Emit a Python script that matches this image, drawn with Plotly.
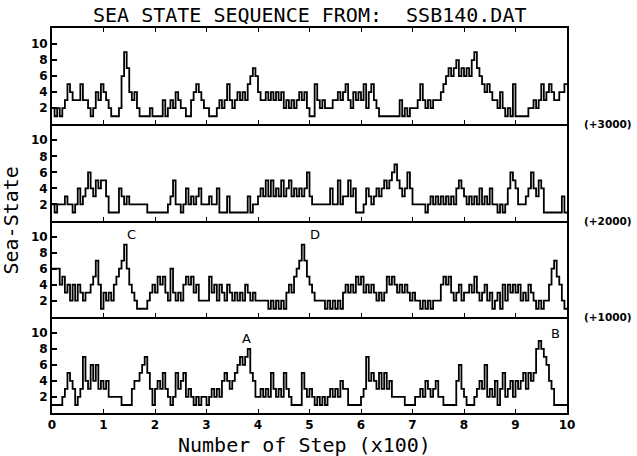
import numpy as np
import plotly.graph_objects as go
from plotly.subplots import make_subplots

# Sea-state values sampled every 5 steps (10 samples = 50 steps per chunk)
seq_3000 = ["2121235433", "3533212435", "4321112697", "4342111121", "1113123243",
            "2211345432", "2111232353", "2343435676", "4334343434", "2323234342",
            "1153232223", "3434532434", "3524532111", "1111131212", "2235323233",
            "3456767867", "6768976545", "4332421215", "1111122323", "5345433445"]
seq_2000 = ["2122232212", "4234643545", "5311114323", "2222222111", "1111123522",
            "1242323422", "2322411131", "1111113122", "3435353435", "3453434346",
            "3222222242", "2523353411", "1243234345", "4567543464", "2222212323",
            "2323232454", "3232324232", "4221212465", "4222346435", "4111111131"]
seq_1000 = ["6664534242", "4323345741", "3232456796", "4321111234", "3545326323",
            "2454534222", "2534243243", "2323243232", "2222121212", "1343567975",
            "4322221212", "1213434354", "5343432323", "5454343432", "3221212122",
            "2454532342", "3343532342", "3123142434", "3423243212", "1224675421"]
seq_0000 = ["1111235431", "2374364634", "3422222111", "1344567531", "3435321253",
            "4523212122", "1232324543", "4567678542", "2323253232", "5321111532",
            "3212121232", "3243311111", "2374543535", "3422222111", "1223243234",
            "2211111463", "2111234362", "3241352342", "4345354589", "8764311111"]

sample_step = 5          # steps per sample
x_unit = 100             # axis unit (x100 steps)
offsets = ["(+3000)", "(+2000)", "(+1000)", ""]
tick_vals_y = [2, 4, 6, 8, 10]
tick_vals_x = list(range(0, 11))

def parse(chunks):
    vals = [int(c) for c in "".join(chunks)]
    vals.append(vals[-1])
    x = np.arange(len(vals)) * sample_step / x_unit
    return x, vals

panels = [seq_3000, seq_2000, seq_1000, seq_0000]

fig = make_subplots(rows=4, cols=1, shared_xaxes=True, vertical_spacing=0)

for i, p in enumerate(panels):
    x, y = parse(p)
    fig.add_trace(go.Scatter(x=x, y=y, mode="lines", line=dict(color="black", width=1.8, shape="hv"),
                             showlegend=False, hoverinfo="skip"), row=i + 1, col=1)

tickfont = dict(family="DejaVu Sans", size=12, color="black", weight="bold")
for i in range(4):
    fig.update_yaxes(range=[0, 12], tickvals=tick_vals_y, ticks="inside", ticklen=5, tickwidth=1.5,
                     tickcolor="black", showline=True, mirror=True, linewidth=2, linecolor="black",
                     showgrid=False, zeroline=False, tickfont=tickfont, row=i + 1, col=1)
    fig.update_xaxes(range=[0, 10], tickvals=tick_vals_x, ticks="inside", ticklen=4, tickwidth=1.2,
                     tickcolor="black", showline=True, mirror=("allticks" if i == 0 else False),
                     linewidth=2, linecolor="black",
                     showgrid=False, zeroline=False, tickfont=tickfont, row=i + 1, col=1)

mono = "DejaVu Sans Mono"
ann = []
# offset labels at panel boundaries
for i, lab in enumerate(offsets[:3]):
    ann.append(dict(text=lab, xref="paper", yref="paper", x=1.03, y=1 - 0.25 * (i + 1),
                    xanchor="left", yanchor="middle", showarrow=False,
                    font=dict(family="DejaVu Sans", size=10.5, color="black", weight="bold")))
# peak markers
letters = [("C", 1.55, 10.3, 3), ("D", 5.1, 10.3, 3), ("A", 3.78, 9.3, 4), ("B", 9.78, 9.9, 4)]
for t, xx, yy, r in letters:
    ann.append(dict(text=t, x=xx, y=yy, xref=f"x{r}", yref=f"y{r}",
                    showarrow=False, font=dict(family="DejaVu Sans", size=13, color="black")))
# title and axis labels
ann.append(dict(text="SEA STATE SEQUENCE FROM:  SSB140.DAT", xref="paper", yref="paper",
                x=0.5, y=1.0 + 13 / 385, xanchor="center", yanchor="middle", showarrow=False,
                font=dict(family=mono, size=20, color="black")))
ann.append(dict(text="Number of Step (x100)", xref="paper", yref="paper",
                x=0.49, y=-32 / 385, xanchor="center", yanchor="middle", showarrow=False,
                font=dict(family=mono, size=20, color="black")))
ann.append(dict(text="Sea-State", xref="paper", yref="paper", textangle=-90,
                x=-42 / 515, y=0.5, xanchor="center", yanchor="middle", showarrow=False,
                font=dict(family=mono, size=20, color="black")))

fig.update_layout(width=637, height=456, margin=dict(l=52, r=70, t=28, b=43),
                  paper_bgcolor="white", plot_bgcolor="white", annotations=ann)

fig.write_html("out.html", config={"displayModeBar": False},
               post_script="document.body.style.margin='0px';")
